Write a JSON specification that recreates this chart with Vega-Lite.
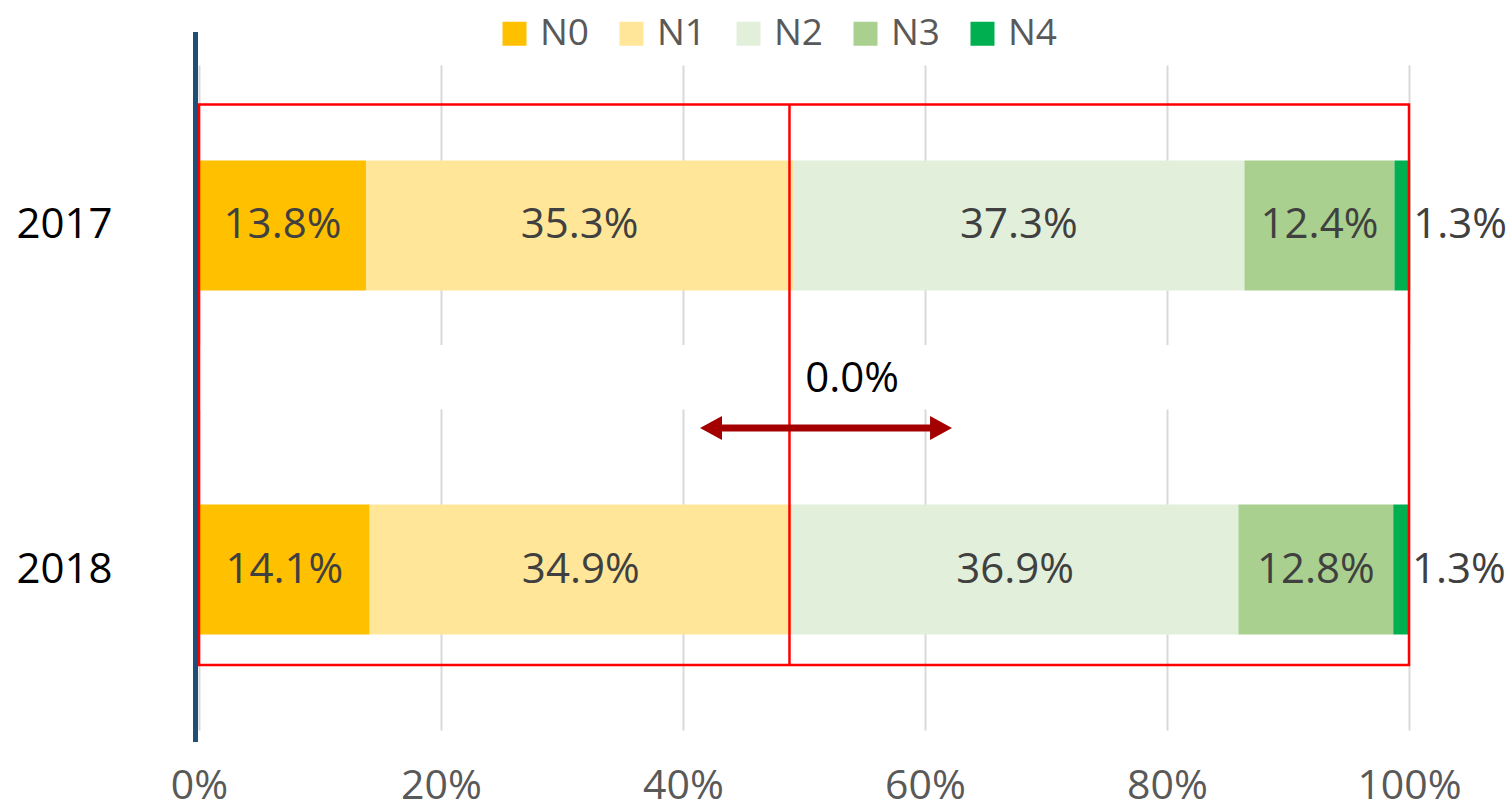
{
  "$schema": "https://vega.github.io/schema/vega-lite/v6.json",
  "width": 1210,
  "height": 665,
  "autosize": {"type": "none"},
  "padding": {"left": 199, "top": 65, "right": 99, "bottom": 82},
  "config": {"view": {"stroke": null}, "font": "Open Sans"},
  "data": {"values": [
    {"year": "2017", "level": "N0", "pct": 0.138},
    {"year": "2017", "level": "N1", "pct": 0.353},
    {"year": "2017", "level": "N2", "pct": 0.373},
    {"year": "2017", "level": "N3", "pct": 0.124},
    {"year": "2017", "level": "N4", "pct": 0.013},
    {"year": "2018", "level": "N0", "pct": 0.141},
    {"year": "2018", "level": "N1", "pct": 0.349},
    {"year": "2018", "level": "N2", "pct": 0.369},
    {"year": "2018", "level": "N3", "pct": 0.128},
    {"year": "2018", "level": "N4", "pct": 0.013}
  ]},
  "transform": [
    {"stack": "pct", "groupby": ["year"], "sort": [{"field": "level", "order": "ascending"}], "as": ["v0", "v1"]}
  ],
  "layer": [
    {
      "data": {"values": [{"note": "gap"}]},
      "mark": {"type": "rect", "fill": "#FFFFFF", "xOffset": -4, "x2Offset": 4, "yOffset": 119.5, "y2Offset": -160},
      "encoding": {
        "x": {"datum": 0, "type": "quantitative", "scale": {"domain": [0, 1]}, "title": null},
        "x2": {"datum": 1},
        "y": {"datum": "2017", "type": "nominal", "bandPosition": 0.5, "scale": {"domain": ["2017", "2018"], "paddingInner": 0.6221, "paddingOuter": 0.2776}, "title": null},
        "y2": {"datum": "2018", "bandPosition": 0.5}
      }
    },
    {
      "mark": {"type": "bar"},
      "encoding": {
        "x": {"field": "v0", "type": "quantitative", "scale": {"domain": [0, 1]},
          "axis": {"values": [0, 0.2, 0.4, 0.6, 0.8, 1], "format": ".0%", "domain": false, "ticks": false, "grid": true, "gridColor": "#D9D9D9", "gridWidth": 2, "labelFontSize": 41, "labelColor": "#595959", "labelPadding": 36, "title": null, "labelFlush": false}},
        "x2": {"field": "v1"},
        "y": {"field": "year", "type": "nominal", "scale": {"domain": ["2017", "2018"], "paddingInner": 0.6221, "paddingOuter": 0.2776},
          "axis": {"title": null, "domain": false, "ticks": false, "grid": false, "labelAlign": "center", "labelPadding": 135, "labelFontSize": 42, "labelColor": "#000000"}},
        "color": {"field": "level", "type": "nominal",
          "scale": {"domain": ["N0", "N1", "N2", "N3", "N4"], "range": ["#FFC000", "#FFE699", "#E2EFDA", "#A9D08E", "#00B050"]},
          "legend": {"title": null, "orient": "none", "direction": "horizontal", "legendX": 297, "legendY": -50, "symbolType": "square", "symbolSize": 576, "symbolStrokeWidth": 0, "labelFontSize": 37, "labelColor": "#595959", "labelOffset": 7, "columnPadding": 23}}
      }
    },
    {
      "transform": [{"filter": "datum.level != 'N4'"}, {"calculate": "(datum.v0 + datum.v1) / 2", "as": "mid"}],
      "mark": {"type": "text", "fontSize": 42, "color": "#404040", "align": "center", "baseline": "middle"},
      "encoding": {
        "x": {"field": "mid", "type": "quantitative", "scale": {"domain": [0, 1]}, "title": null},
        "y": {"field": "year", "type": "nominal", "title": null},
        "text": {"field": "pct", "type": "quantitative", "format": ".1%"}
      }
    },
    {
      "transform": [{"filter": "datum.level == 'N4'"}],
      "mark": {"type": "text", "fontSize": 42, "color": "#404040", "align": "left", "baseline": "middle", "dx": 3},
      "encoding": {
        "x": {"field": "v1", "type": "quantitative", "scale": {"domain": [0, 1]}, "title": null},
        "y": {"field": "year", "type": "nominal", "title": null},
        "text": {"field": "pct", "type": "quantitative", "format": ".1%"}
      }
    },
    {
      "data": {"values": [{"note": "box"}]},
      "mark": {"type": "rect", "filled": false, "stroke": "#FF0000", "strokeWidth": 2.5, "yOffset": -121, "y2Offset": 95.5},
      "encoding": {
        "x": {"datum": 0, "type": "quantitative", "scale": {"domain": [0, 1]}, "title": null},
        "x2": {"datum": 1},
        "y": {"datum": "2017", "type": "nominal", "bandPosition": 0.5, "title": null},
        "y2": {"datum": "2018", "bandPosition": 0.5}
      }
    },
    {
      "data": {"values": [{"note": "split"}]},
      "mark": {"type": "rule", "stroke": "#FF0000", "strokeWidth": 2.5, "yOffset": -121, "y2Offset": 95.5},
      "encoding": {
        "x": {"datum": 0.488, "type": "quantitative", "scale": {"domain": [0, 1]}, "title": null},
        "y": {"datum": "2017", "type": "nominal", "bandPosition": 0.5, "title": null},
        "y2": {"datum": "2018", "bandPosition": 0.5}
      }
    },
    {
      "data": {"values": [{"note": "arrow"}]},
      "mark": {"type": "rule", "stroke": "#A50000", "strokeWidth": 7, "yOffset": -141.5},
      "encoding": {
        "x": {"datum": 0.424, "type": "quantitative", "scale": {"domain": [0, 1]}, "title": null},
        "x2": {"datum": 0.6124},
        "y": {"datum": "2018", "type": "nominal", "bandPosition": 0.5, "title": null}
      }
    },
    {
      "data": {"values": [{"note": "arrow"}]},
      "mark": {"type": "point", "shape": "M-1,0L0.83,-1L0.83,1Z", "size": 576, "filled": true, "fill": "#A50000", "strokeWidth": 0, "opacity": 1, "yOffset": -141.5},
      "encoding": {
        "x": {"datum": 0.424, "type": "quantitative", "scale": {"domain": [0, 1]}, "title": null},
        "y": {"datum": "2018", "type": "nominal", "bandPosition": 0.5, "title": null}
      }
    },
    {
      "data": {"values": [{"note": "arrow"}]},
      "mark": {"type": "point", "shape": "M1,0L-0.83,-1L-0.83,1Z", "size": 576, "filled": true, "fill": "#A50000", "strokeWidth": 0, "opacity": 1, "yOffset": -141.5},
      "encoding": {
        "x": {"datum": 0.6124, "type": "quantitative", "scale": {"domain": [0, 1]}, "title": null},
        "y": {"datum": "2018", "type": "nominal", "bandPosition": 0.5, "title": null}
      }
    },
    {
      "data": {"values": [{"label": "0.0%"}]},
      "mark": {"type": "text", "fontSize": 42, "color": "#000000", "align": "center", "baseline": "middle", "dy": -190.5},
      "encoding": {
        "x": {"datum": 0.5397, "type": "quantitative", "scale": {"domain": [0, 1]}, "title": null},
        "y": {"datum": "2018", "type": "nominal", "bandPosition": 0.5, "title": null},
        "text": {"field": "label", "type": "nominal"}
      }
    },
    {
      "data": {"values": [{"note": "axis"}]},
      "mark": {"type": "rule", "stroke": "#1F4E79", "strokeWidth": 5, "xOffset": -3.5, "yOffset": -193.5, "y2Offset": 172.5},
      "encoding": {
        "x": {"datum": 0, "type": "quantitative", "scale": {"domain": [0, 1]}, "title": null},
        "y": {"datum": "2017", "type": "nominal", "bandPosition": 0.5, "title": null},
        "y2": {"datum": "2018", "bandPosition": 0.5}
      }
    }
  ]
}
